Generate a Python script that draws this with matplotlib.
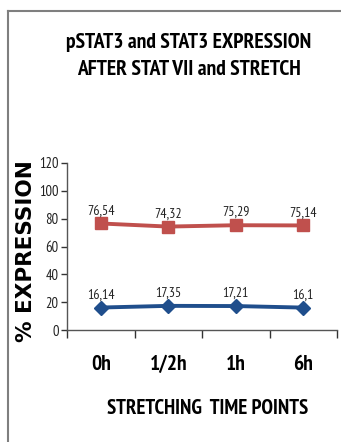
import matplotlib
matplotlib.use("Agg")
import matplotlib.pyplot as plt
from matplotlib.lines import Line2D

categories = ["0h", "1/2h", "1h", "6h"]
stat3_values = [76.54, 74.32, 75.29, 75.14]
pstat3_values = [16.14, 17.35, 17.21, 16.1]
stat3_labels = ["76,54", "74,32", "75,29", "75,14"]
pstat3_labels = ["16,14", "17,35", "17,21", "16,1"]
y_ticks = [0, 20, 40, 60, 80, 100, 120]

narrow = ["PT Sans Narrow", "Roboto Condensed", "DejaVu Sans"]
wide = ["DejaVu Sans"]

W, H = 341, 442
fig = plt.figure(figsize=(W / 100, H / 100), dpi=100)
fig.patch.set_facecolor("white")

# outer frame (top and left edges)
fig.add_artist(Line2D([8 / W, 1.0], [1 - 11 / H, 1 - 11 / H], color="#7f7f7f", lw=1.5,
                      transform=fig.transFigure))
fig.add_artist(Line2D([8 / W, 8 / W], [1 - 11 / H, 0.0], color="#7f7f7f", lw=1.5,
                      transform=fig.transFigure))

left, right, top, bottom = 67, 337, 163, 330
ax = fig.add_axes([left / W, 1 - bottom / H, (right - left) / W, (bottom - top) / H])

x = list(range(len(categories)))
ax.plot(x, stat3_values, color="#C0504D", lw=2.8, marker="s", ms=8, zorder=3)
ax.plot(x, pstat3_values, color="#1F4E8C", lw=2.8, marker="D", ms=7.5, zorder=3)

for xi, v, t in zip(x, stat3_values, stat3_labels):
    ax.annotate(t, (xi, v), xytext=(0, 4.5), textcoords="offset points", ha="center",
                va="bottom", fontsize=10, family=narrow, color="#222222")
for xi, v, t in zip(x, pstat3_values, pstat3_labels):
    ax.annotate(t, (xi, v), xytext=(0, 4.5), textcoords="offset points", ha="center",
                va="bottom", fontsize=10, family=narrow, color="#222222")

ax.set_xlim(-0.5, len(categories) - 0.5)
ax.set_ylim(0, 120)
ax.set_yticks(y_ticks)
ax.set_yticklabels([str(v) for v in y_ticks], family=narrow, fontsize=10.5, color="#222222")
ax.set_xticks(x)
ax.set_xticklabels(categories, family=narrow, fontsize=15.5, fontweight="bold")
ax.set_xticks([i - 0.5 for i in range(len(categories) + 1)], minor=True)
ax.tick_params(axis="x", which="major", length=0, pad=18)
ax.tick_params(axis="x", which="minor", length=6, width=1, color="#333333")
ax.tick_params(axis="y", length=4, width=1, color="#333333", pad=2)

for s in ["top", "right"]:
    ax.spines[s].set_visible(False)
for s in ["left", "bottom"]:
    ax.spines[s].set_color("#555555")
    ax.spines[s].set_linewidth(1)

fig.text(189 / W, 1 - 56 / H, "pSTAT3 and STAT3 EXPRESSION\nAFTER STAT VII and STRETCH",
         ha="center", va="center", fontsize=15.5, fontweight="bold", family=narrow,
         linespacing=1.5)
fig.text(26 / W, 1 - 251 / H, "% EXPRESSION", rotation=90, ha="center", va="center",
         fontsize=15.5, fontweight="bold", family=wide)
fig.text(208 / W, 1 - 408 / H, "STRETCHING  TIME POINTS", ha="center", va="center",
         fontsize=15, fontweight="bold", family=narrow)

fig.savefig("out.png", dpi=100)
